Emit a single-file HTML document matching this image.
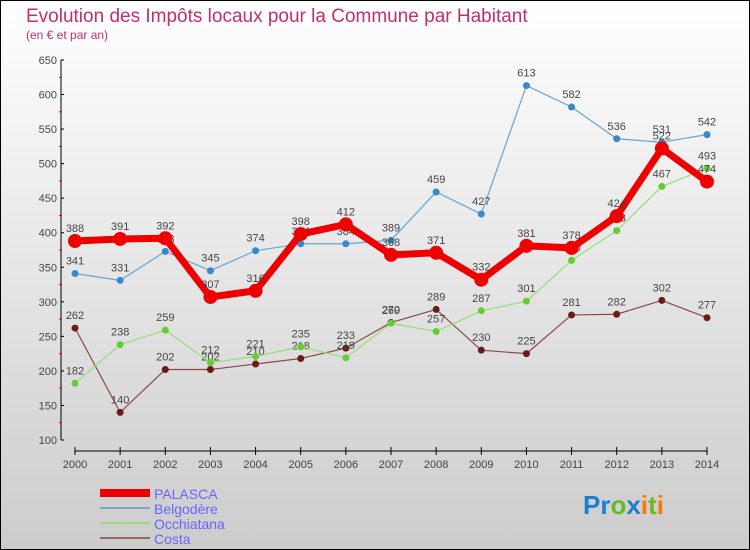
<!DOCTYPE html>
<html><head><meta charset="utf-8"><style>
body{margin:0;}
#c{width:750px;height:550px;position:relative;overflow:hidden;font-family:"Liberation Sans",sans-serif;}
</style></head><body>
<div id="c">
<svg id="s" width="750" height="550" xmlns="http://www.w3.org/2000/svg">
<defs><linearGradient id="bg" x1="0" y1="0" x2="0" y2="1"><stop offset="0" stop-color="#ffffff"/><stop offset="1" stop-color="#cccccc"/></linearGradient></defs>
<rect x="0.5" y="0.5" width="749" height="549" fill="url(#bg)" stroke="#000"/>
<text x="26" y="22" font-size="19" fill="#c0306a">Evolution des Impôts locaux pour la Commune par Habitant</text>
<text x="26" y="39" font-size="12" fill="#c0306a">(en € et par an)</text>
<g id="axes"></g><g id="series"></g>
<g>
<rect x="100" y="489" width="50" height="8" fill="#e00"/>
<text x="154" y="499" font-size="14" fill="#6666ff">PALASCA</text>
<line x1="100" y1="508" x2="150" y2="508" stroke="#7aa6c8" stroke-width="2"/>
<text x="154" y="514" font-size="14" fill="#6666ff">Belgodère</text>
<line x1="100" y1="523" x2="150" y2="523" stroke="#99dd77" stroke-width="2"/>
<text x="154" y="529" font-size="14" fill="#6666ff">Occhiatana</text>
<line x1="100" y1="538" x2="150" y2="538" stroke="#996666" stroke-width="2"/>
<text x="154" y="544" font-size="14" fill="#6666ff">Costa</text>
</g>
<text x="583" y="514" font-size="26" font-weight="bold"><tspan fill="#1a7fd0">Pr</tspan><tspan fill="#66bb22">o</tspan><tspan fill="#1a7fd0">x</tspan><tspan fill="#ff7700">i</tspan><tspan fill="#66bb22">t</tspan><tspan fill="#ff7700">i</tspan></text>
</svg>
</div>
<script>
const years=[2000,2001,2002,2003,2004,2005,2006,2007,2008,2009,2010,2011,2012,2013,2014];
const palasca=[388,391,392,307,316,398,412,368,371,332,381,378,424,522,474];
const belgodere=[341,331,373,345,374,384,384,389,459,427,613,582,536,531,542];
const occhiatana=[182,238,259,212,221,235,219,269,257,287,301,360,403,467,493];
const costa=[262,140,202,202,210,218,233,270,289,230,225,281,282,302,277];
const yTicks=[100,150,200,250,300,350,400,450,500,550,600,650];
const NS="http://www.w3.org/2000/svg";
function X(i){return 75+i*(707-75)/(years.length-1);}
function Y(v){return 440-(v-100)*(380/550);}
function mk(t,a,p){const e=document.createElementNS(NS,t);for(const k in a)e.setAttribute(k,a[k]);p.appendChild(e);return e;}
const ax=document.getElementById('axes');
let yl=mk('line',{x1:61,y1:Y(650),x2:61,y2:440,stroke:'#000'},ax);


let xl=mk('line',{x1:75,y1:451,x2:707,y2:451,stroke:'#000'},ax);


yTicks.forEach(v=>{
 mk('line',{x1:61,y1:Y(v),x2:64,y2:Y(v),stroke:'#000'},ax);
 if(v<650) mk('line',{x1:59,y1:Y(v+25),x2:62,y2:Y(v+25),stroke:'#e00'},ax);
 const t=mk('text',{x:57,y:Y(v)+4,'font-size':11,fill:'#444','text-anchor':'end'},ax);t.textContent=v;
 
 
});
years.forEach((y,i)=>{
 mk('line',{x1:X(i),y1:447,x2:X(i),y2:455,stroke:'#000'},ax);
 const t=mk('text',{x:X(i),y:468,'font-size':11,fill:'#444','text-anchor':'middle'},ax);t.textContent=y;
 
 
});
const sg=document.getElementById('series');
function draw(name,data,color,dot,w,r){
 const g=mk('g',{},sg);
 
 
 mk('polyline',{points:data.map((v,i)=>X(i)+','+Y(v)).join(' '),fill:'none',stroke:color,'stroke-width':w,'stroke-linejoin':'round'},g);
 data.forEach((v,i)=>{
  const c=mk('circle',{cx:X(i),cy:Y(v),r:r,fill:dot},g);
  
  
  const t=mk('text',{x:X(i),y:Y(v)-9,'font-size':11,fill:'#444','text-anchor':'middle'},g);t.textContent=v;
  
  
 });
}
draw('costa',costa,'#8b4a4a','#6b1a1a',1.2,3.5);
draw('occhiatana',occhiatana,'#99dd77','#66cc33',1.2,3.5);
draw('belgodere',belgodere,'#6aa4d0','#3a88cc',1.2,3.5);
draw('palasca',palasca,'#ee0000','#ee0000',7,7);
</script>
</body></html>
